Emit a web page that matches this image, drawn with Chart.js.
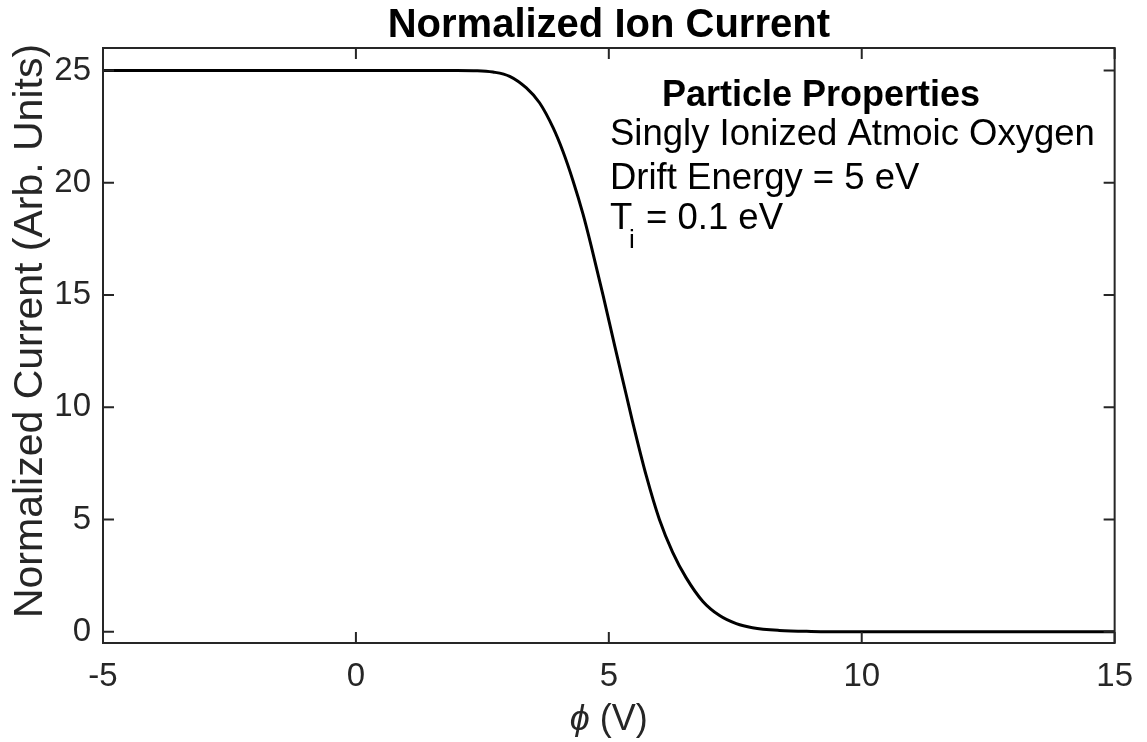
<!DOCTYPE html>
<html>
<head>
<meta charset="utf-8">
<script src="https://cdn.jsdelivr.net/npm/chart.js@4.4.1/dist/chart.umd.min.js"></script>
<style>
  html, body { margin: 0; background: #fff; }
  #wrap { width: 1147px; height: 742px; }
</style>
</head>
<body>
<div id="wrap"><canvas id="chart"></canvas></div>
<script>
// retarding potential (V) and normalized ion current
const phi = [-5, 0, 2, 2.4, 2.71, 3.04, 3.37, 3.63, 3.9, 4.09, 4.29, 4.49, 4.65, 4.89, 5.12,
  5.35, 5.47, 5.74, 6.0, 6.26, 6.53, 6.86, 7.19, 7.52, 7.84, 8.37, 9, 10, 15];
const current = [25, 25, 25, 24.99, 24.93, 24.74, 24.22, 23.56, 22.44, 21.41, 20.1, 18.6, 17.2, 14.95, 12.7,
  10.5, 9.35, 6.95, 5.0, 3.55, 2.4, 1.35, 0.72, 0.36, 0.18, 0.06, 0.015, 0, 0];

const xTicks = [-5, 0, 5, 10, 15];
const yTicks = [0, 5, 10, 15, 20, 25];

const ink = "#262626";
const font = "'Liberation Sans', Arial, Helvetica, sans-serif";

// box, inward ticks and the text MATLAB puts around the axes
const decor = {
  id: "decor",
  afterDraw(c) {
    const { ctx, chartArea: a, scales: { x, y } } = c;
    ctx.save();
    ctx.strokeStyle = ink;
    ctx.lineWidth = 2;
    ctx.strokeRect(a.left, a.top, a.right - a.left, a.bottom - a.top);
    ctx.beginPath();
    xTicks.forEach(v => {
      const px = x.getPixelForValue(v);
      ctx.moveTo(px, a.bottom); ctx.lineTo(px, a.bottom - 11);
      ctx.moveTo(px, a.top); ctx.lineTo(px, a.top + 11);
    });
    yTicks.forEach(v => {
      const py = y.getPixelForValue(v);
      ctx.moveTo(a.left, py); ctx.lineTo(a.left + 11, py);
      ctx.moveTo(a.right, py); ctx.lineTo(a.right - 11, py);
    });
    ctx.stroke();

    ctx.fillStyle = "#000";
    ctx.textBaseline = "alphabetic";
    ctx.textAlign = "center";
    ctx.font = "bold 40px " + font;
    ctx.fillText("Normalized Ion Current", (a.left + a.right) / 2, 37);

    // particle properties text
    ctx.font = "bold 36px " + font;
    ctx.fillText("Particle Properties", 821, 106);
    ctx.textAlign = "left";
    ctx.font = "36.5px " + font;
    ctx.fillText("Singly Ionized Atmoic Oxygen", 610, 145);
    ctx.fillText("Drift Energy = 5 eV", 610, 189);
    ctx.fillText("T", 610, 229);
    ctx.font = "26px " + font;
    ctx.fillText("i", 629, 248);
    ctx.font = "36.5px " + font;
    ctx.fillText("= 0.1 eV", 646, 229);

    // axis labels
    ctx.fillStyle = ink;
    const cx = (a.left + a.right) / 2;
    ctx.font = "italic 36px " + font;
    const w1 = ctx.measureText("\u03D5").width;
    ctx.font = "36px " + font;
    const w2 = ctx.measureText(" (V)").width;
    const x0 = cx - (w1 + w2) / 2;
    ctx.font = "italic 36px " + font;
    ctx.fillText("\u03D5", x0, 730);
    ctx.font = "36px " + font;
    ctx.fillText(" (V)", x0 + w1, 730);

    ctx.translate(42, 331);
    ctx.rotate(-Math.PI / 2);
    ctx.textAlign = "center";
    ctx.font = "41px " + font;
    ctx.fillText("Normalized Current (Arb. Units)", 0, 0);
    ctx.restore();
  }
};

new Chart(document.getElementById("chart"), {
  type: "line",
  data: {
    datasets: [{
      data: phi.map((v, i) => ({ x: v, y: current[i] })),
      borderColor: "#000",
      borderWidth: 3,
      pointRadius: 0,
      cubicInterpolationMode: "monotone",
      fill: false
    }]
  },
  options: {
    responsive: true,
    maintainAspectRatio: false,
    animation: false,
    layout: { padding: { top: 48, right: 31, left: 0, bottom: 0 } },
    plugins: { legend: { display: false }, tooltip: { enabled: false } },
    scales: {
      x: {
        type: "linear",
        min: -5, max: 15,
        afterBuildTicks: s => { s.ticks = xTicks.map(v => ({ value: v })); },
        afterFit: s => { s.height = 99; },
        grid: { display: false, drawTicks: false },
        border: { display: false },
        ticks: { color: ink, padding: 14, font: { family: font, size: 33 } }
      },
      y: {
        min: -0.5, max: 26,
        afterBuildTicks: s => { s.ticks = yTicks.map(v => ({ value: v })); },
        afterFit: s => { s.width = 103; },
        grid: { display: false, drawTicks: false },
        border: { display: false },
        ticks: { color: ink, padding: 12, font: { family: font, size: 33 } }
      }
    }
  },
  plugins: [decor]
});
</script>
</body>
</html>
